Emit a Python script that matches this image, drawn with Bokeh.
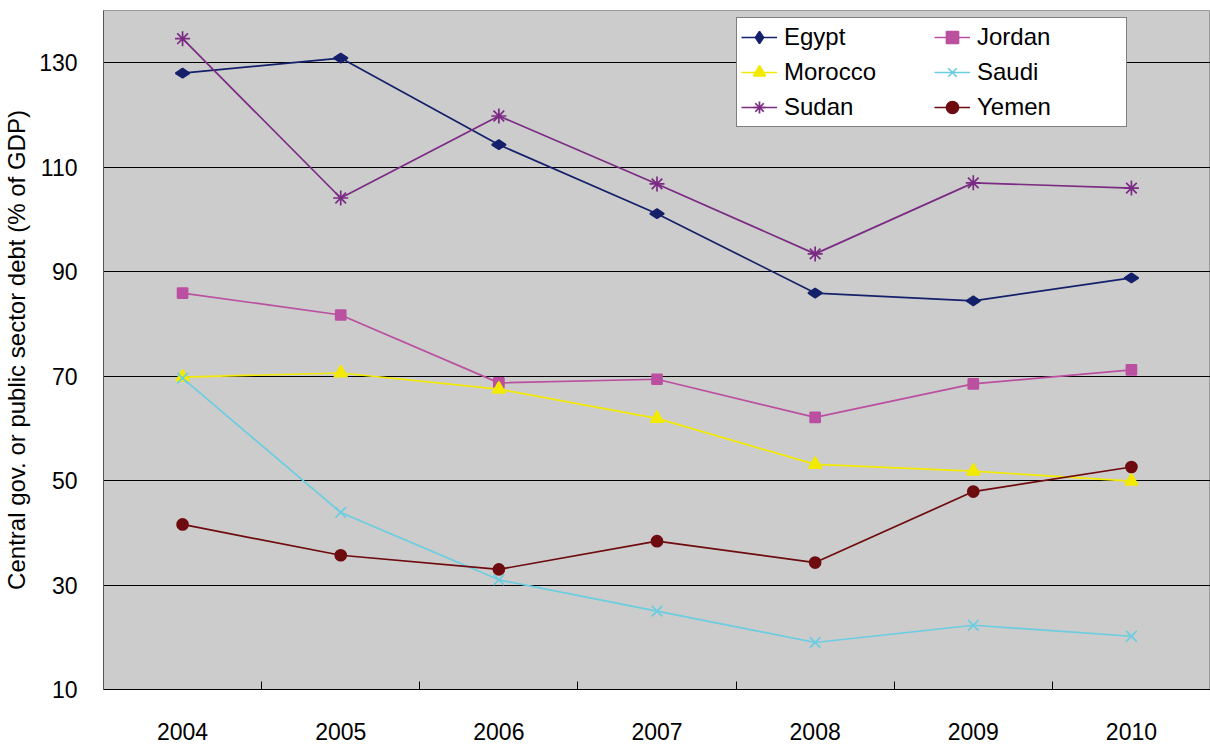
import math
from bokeh.plotting import figure
from bokeh.models import FixedTicker, Range1d, Legend, LegendItem
from bokeh.embed import file_html
from bokeh.resources import INLINE

# ---- data ----
years = ["2004", "2005", "2006", "2007", "2008", "2009", "2010"]
egypt = [128.0, 130.9, 114.3, 101.1, 85.9, 84.4, 88.8]
jordan = [85.9, 81.7, 68.7, 69.4, 62.1, 68.5, 71.2]
morocco = [69.8, 70.6, 67.5, 61.9, 53.1, 51.8, 49.9]
saudi = [69.6, 43.9, 31.0, 25.0, 19.0, 22.3, 20.2]
sudan = [134.6, 104.1, 119.8, 106.8, 93.4, 107.0, 106.0]
yemen = [41.6, 35.7, 33.0, 38.4, 34.3, 47.9, 52.6]
y_ticks = [10, 30, 50, 70, 90, 110, 130]
y_title = "Central gov. or public sector debt (% of GDP)"

FONT = "Liberation Sans"
xs = list(range(len(years)))

p = figure(width=1210, height=747, output_backend="svg", toolbar_location=None,
           x_range=Range1d(-0.5, len(years) - 0.5), y_range=Range1d(10, 140),
           min_border_left=103, min_border_right=0, min_border_top=10, min_border_bottom=58)

p.background_fill_color = "#CCCCCC"
p.border_fill_color = "white"
p.outline_line_color = "#999999"
p.outline_line_width = 1

# x axis: labels at category centers, inner ticks at category boundaries
xt = FixedTicker(ticks=xs, minor_ticks=[i + 0.5 for i in xs[:-1]])
p.xaxis.ticker = xt
p.xaxis.major_label_overrides = {i: y for i, y in enumerate(years)}
p.xaxis.major_tick_line_color = None
p.xaxis.minor_tick_line_color = "black"
p.xaxis.minor_tick_in = 8
p.xaxis.minor_tick_out = 0
p.xaxis.axis_line_color = "black"
p.xaxis.major_label_text_font = FONT
p.xaxis.major_label_text_font_size = "23px"
p.xaxis.major_label_text_color = "black"
p.xaxis.major_label_standoff = 27

yt = FixedTicker(ticks=y_ticks)
p.yaxis.ticker = yt
p.yaxis.major_tick_line_color = None
p.yaxis.minor_tick_line_color = None
p.yaxis.axis_line_color = "#555555"
p.yaxis.major_label_text_font = FONT
p.yaxis.major_label_text_font_size = "23px"
p.yaxis.major_label_text_color = "black"
p.yaxis.major_label_standoff = 20
p.yaxis.axis_label = y_title
p.yaxis.axis_label_text_font = FONT
p.yaxis.axis_label_text_font_size = "24px"
p.yaxis.axis_label_text_font_style = "normal"
p.yaxis.axis_label_text_color = "black"
p.yaxis.axis_label_standoff = 6

p.xgrid.visible = False
p.ygrid.ticker = yt
p.ygrid.grid_line_color = "black"
p.ygrid.grid_line_width = 1

series = [
    ("Egypt", egypt, "#14206A", "diamond", 14, math.pi / 2),
    ("Jordan", jordan, "#BB4FA0", "square", 10, 0),
    ("Morocco", morocco, "#F2EA00", "triangle", 13, 0),
    ("Saudi", saudi, "#6ACDE0", "x", 15, 0),
    ("Sudan", sudan, "#7B2B83", "asterisk", 15, 0),
    ("Yemen", yemen, "#6E0B0E", "circle", 11, 0),
]

items = []
for name, vals, color, marker, size, angle in series:
    lr = p.line(xs, vals, line_color=color, line_width=1.7)
    sr = p.scatter(xs, vals, marker=marker, size=size, angle=angle,
                   fill_color=color, line_color=color, line_width=1.7)
    items.append(LegendItem(label=name, renderers=[lr, sr]))

legend = Legend(items=items, location=(633, 562), orientation="horizontal", ncols=2,
                label_text_font=FONT, label_text_font_size="24px", label_text_color="black",
                glyph_width=36, glyph_height=30, label_standoff=7, label_width=145,
                spacing=5, padding=4, margin=0,
                border_line_color="black", border_line_width=1,
                background_fill_color="white", background_fill_alpha=1.0)
p.add_layout(legend)

open("out.html", "w").write(file_html(p, INLINE))
